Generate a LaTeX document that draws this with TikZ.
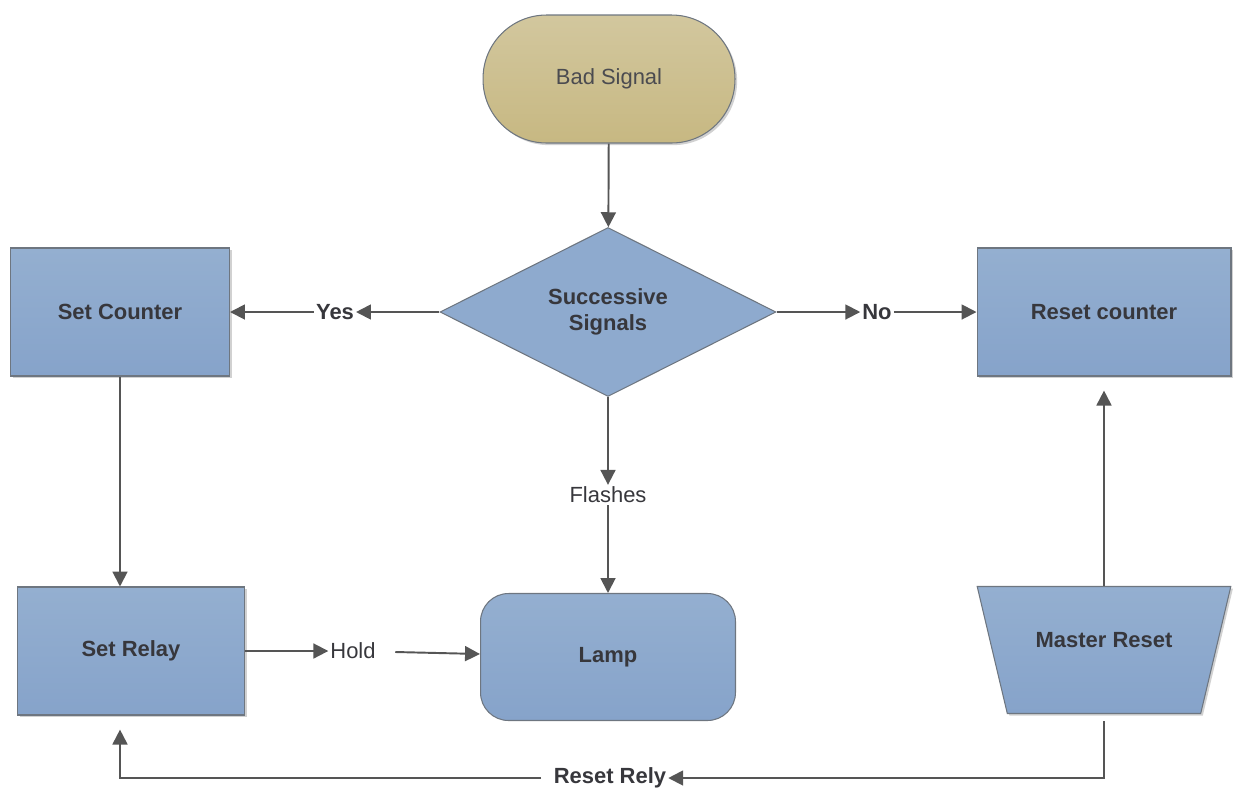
\documentclass[tikz,border=0pt]{standalone}
\usepackage{fontspec}
\setmainfont{Liberation Sans}
\usepackage{tikz}
\usetikzlibrary{arrows.meta, positioning, shapes.geometric, shadows}
\definecolor{fcbluetop}{RGB}{148, 175, 208}
\definecolor{fcbluebot}{RGB}{134, 163, 202}
\definecolor{fctantop}{RGB}{210, 199, 158}
\definecolor{fctanbot}{RGB}{199, 184, 130}
\definecolor{fcedge}{RGB}{110, 118, 128}
\definecolor{fcline}{RGB}{85, 85, 85}
\definecolor{fctext}{RGB}{55, 55, 60}

\tikzset{
  boxfont/.style={font=\fontsize{12.5}{15}\selectfont\bfseries, text=fctext},
  lblfont/.style={font=\fontsize{12.5}{15}\selectfont, text=fctext},
  softshadow/.style={drop shadow={shadow xshift=1.2pt, shadow yshift=-1.2pt, opacity=0.3, fill=black!60}},
  flowbox/.style={rectangle, draw=fcedge, line width=0.6pt, top color=fcbluetop, bottom color=fcbluebot,
    minimum height=2.56cm, inner sep=0pt, boxfont, softshadow},
  startbox/.style={rectangle, rounded corners=1.27cm, draw=fcedge, line width=0.6pt, top color=fctantop,
    bottom color=fctanbot, minimum width=5.04cm, minimum height=2.56cm, lblfont, text=fctext!90, softshadow},
  decision/.style={diamond, draw=fcedge, line width=0.6pt, fill=fcbluetop!60!fcbluebot, minimum width=6.72cm,
    minimum height=3.38cm, inner sep=0pt, align=center, boxfont},
  lampbox/.style={rectangle, rounded corners=0.56cm, draw=fcedge, line width=0.6pt, top color=fcbluetop,
    bottom color=fcbluebot, minimum width=5.1cm, minimum height=2.54cm, inner sep=0pt, boxfont},
  manualbox/.style={trapezium, trapezium stretches=true, shape border rotate=180, trapezium left angle=63,
    trapezium right angle=63, draw=fcedge, line width=0.6pt, top color=fcbluetop, bottom color=fcbluebot,
    minimum width=5.08cm, minimum height=2.54cm, inner sep=2pt, text height=9pt, text depth=12pt,
    boxfont, softshadow},
  edgelbl/.style={inner sep=1pt, lblfont},
  arr/.style={draw=fcline, line width=1.1pt, -{Triangle[length=8.5pt, width=8.5pt]}}
}

\begin{document}
\begin{tikzpicture}[x=0.02cm, y=-0.02cm]
  \useasboundingbox (0,0) rectangle (1234,789);

  % Start
  \node[startbox] (bad) at (609,79) {Bad Signal};

  % Decision
  \node[decision] (succ) at (608,312) {Successive\\Signals};

  % Boxes
  \node[flowbox, minimum width=4.38cm] (setc) at (120,312) {Set Counter};
  \node[flowbox, minimum width=5.08cm] (resetc) at (1104,312) {Reset counter};
  \node[flowbox, minimum width=4.54cm] (relay) at (131,651) {Set Relay};
  \node[lampbox] (lamp) at (608,657) {Lamp};
  \node[manualbox] (master) at (1104,650) {Master Reset};

  % Edge labels
  \node[edgelbl, font=\fontsize{12.5}{15}\selectfont\bfseries] (yes) at (335,312) {Yes};
  \node[edgelbl, font=\fontsize{12.5}{15}\selectfont\bfseries] (no) at (877,312) {No};
  \node[edgelbl] (flash) at (608,495) {Flashes};
  \node[edgelbl] (hold) at (353,651) {Hold};
  \node[edgelbl, font=\fontsize{12.5}{15}\selectfont\bfseries] (rely) at (610,778) {Reset Rely};

  % Connectors
  \draw[arr] (bad) -- (succ);
  \draw[arr] (succ) -- (yes);
  \draw[arr] (yes) -- (setc);
  \draw[arr] (succ) -- (no);
  \draw[arr] (no) -- (resetc);
  \draw[arr] (succ) -- (flash);
  \draw[arr] (flash) -- (lamp);
  \draw[arr] (setc.south) -- (setc.south |- relay.north);
  \draw[arr] (relay) -- (hold);
  \draw[arr, shorten <=10pt] (hold) -- (lamp);
  \draw[arr, shorten >=8pt] (master.north) -- (resetc.south);
  \draw[arr, shorten <=4pt] (master.south) |- (rely);
  \draw[arr, shorten <=6pt, shorten >=8pt] (rely) -| (setc.south |- relay.south);
\end{tikzpicture}
\end{document}
